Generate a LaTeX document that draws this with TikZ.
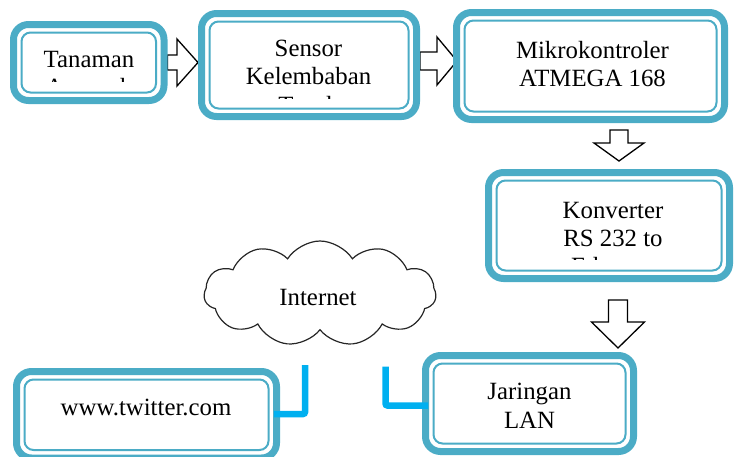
\documentclass[tikz,border=0pt]{standalone}
\usepackage{fontspec}
\setmainfont{Liberation Serif}
\usetikzlibrary{calc,shapes.symbols,backgrounds}

\definecolor{frameteal}{HTML}{4BACC6}
\definecolor{linkblue}{HTML}{00B0F0}

% centred stack of lines, baseline on the first line
\newcommand\lns[1]{\begin{tabular}[t]{@{}c@{}}#1\end{tabular}}

% hollow block arrow: tail, tip, shaft half-width, head half-width, head length
\newcommand\blockarrow[5]{%
  \coordinate (bahead) at ($(#2)!#5!(#1)$);
  \draw[hollowarrow] ($(#1)!#3!90:(#2)$) -- ($(bahead)!#3!90:(#2)$)
    -- ($(bahead)!#4!90:(#2)$) -- (#2) -- ($(bahead)!#4!-90:(#2)$)
    -- ($(bahead)!#3!-90:(#2)$) -- ($(#1)!#3!-90:(#2)$) -- cycle;}

\tikzset{
  framebox/.style={draw=frameteal, line width=7pt, rounded corners=15pt,
    inner sep=0pt, fill=white},
  innerframe/.style={draw=frameteal, line width=2pt, rounded corners=9pt},
  label/.style={inner sep=0pt, anchor=base,
    font=\fontsize{24.8}{28.3}\selectfont},
  hollowarrow/.style={draw=black, fill=white, line width=1.3pt, line join=miter},
  link/.style={draw=linkblue, line width=6.5pt, rounded corners=2pt},
  netcloud/.style={cloud, draw=black!85, line width=1.2pt, cloud puffs=11,
    cloud puff arc=115, aspect=2.2, minimum width=232pt, minimum height=105pt}
}

\begin{document}
\begin{tikzpicture}[x=1pt,y=-1pt]
\useasboundingbox (0,0) rectangle (734,456);

% blocks
\node[framebox, minimum width=150.5pt, minimum height=76pt]  (b1) at (88.75,62.5) {};
\node[framebox, minimum width=215pt,   minimum height=103pt] (b2) at (309,65) {};
\node[framebox, minimum width=268pt,   minimum height=107pt] (b3) at (590.5,66) {};
\node[framebox, minimum width=241pt,   minimum height=106pt] (b4) at (609,225.5) {};
\node[framebox, minimum width=260pt,   minimum height=86.5pt](b5) at (146.5,414.75) {};
\node[framebox, minimum width=208pt,   minimum height=96pt]  (b6) at (529.5,403.5) {};

\foreach \n in {b1,b2,b3,b4,b5,b6}
  \draw[innerframe] ([xshift=11.5pt,yshift=-11.5pt]\n.north west)
    rectangle ([xshift=-11.5pt,yshift=11.5pt]\n.south east);

% block labels (long labels run past the text area and are cut off)
\begin{scope}
  \clip (0,0) rectangle (180,81.5);
  \node[label] (t1) at (89,67) {\lns{Tanaman\\Anggrek}};
\end{scope}
\begin{scope}
  \clip (190,0) rectangle (430,98.5);
  \node[label] (t2) at (308.5,56.4) {\lns{Sensor\\Kelembaban\\Tanah}};
\end{scope}
\node[label] (t3) at (592.5,58) {\lns{Mikrokontroler\\ATMEGA 168}};
\begin{scope}
  \clip (480,160) rectangle (734,259.5);
  \node[label] (t4) at (613,218) {\lns{Konverter\\RS 232 to\\Ethernet}};
\end{scope}
\node[label] (t5) at (146,415) {www.twitter.com};
\node[label] (t6) at (529.5,399.7) {\lns{Jaringan\\LAN}};

% cloud
\node[netcloud] (net) at (320,293.5) {};
\node[label] (nettext) at (318,305) {Internet};

% block arrows between stages
\coordinate (a1t) at (b1.east);
\coordinate (a1h) at (b2.west |- b1.east);
\coordinate (a2t) at ($(b2.east)+(0,-4)$);
\coordinate (a2h) at ($(b3.west |- a2t)+(4,0)$);
\coordinate (a3t) at ($(b3.south)+(28.5,7)$);
\coordinate (a3h) at ($(b4.north -| a3t)+(0,-8)$);
\coordinate (a4t) at ($(b4.south)+(9,18)$);
\coordinate (a4h) at ($(b6.north -| a4t)+(0,-4)$);
\begin{scope}[on background layer]
  \blockarrow{a1t}{a1h}{7.5pt}{23.5pt}{21pt}
  \blockarrow{a2t}{a2h}{9pt}{24pt}{20pt}
\end{scope}
\blockarrow{a3t}{a3h}{9pt}{25pt}{18pt}
\blockarrow{a4t}{a4h}{9.5pt}{26.5pt}{26pt}

% links towards the internet cloud
\coordinate (twend) at (305,365);
\coordinate (lanend) at (385.5,366.5);
\draw[link] ($(b5.east)+(-6,-0.75)$) -| (twend);
\draw[link] ($(b6.west)+(6,2)$) -| (lanend);
\end{tikzpicture}
\end{document}
